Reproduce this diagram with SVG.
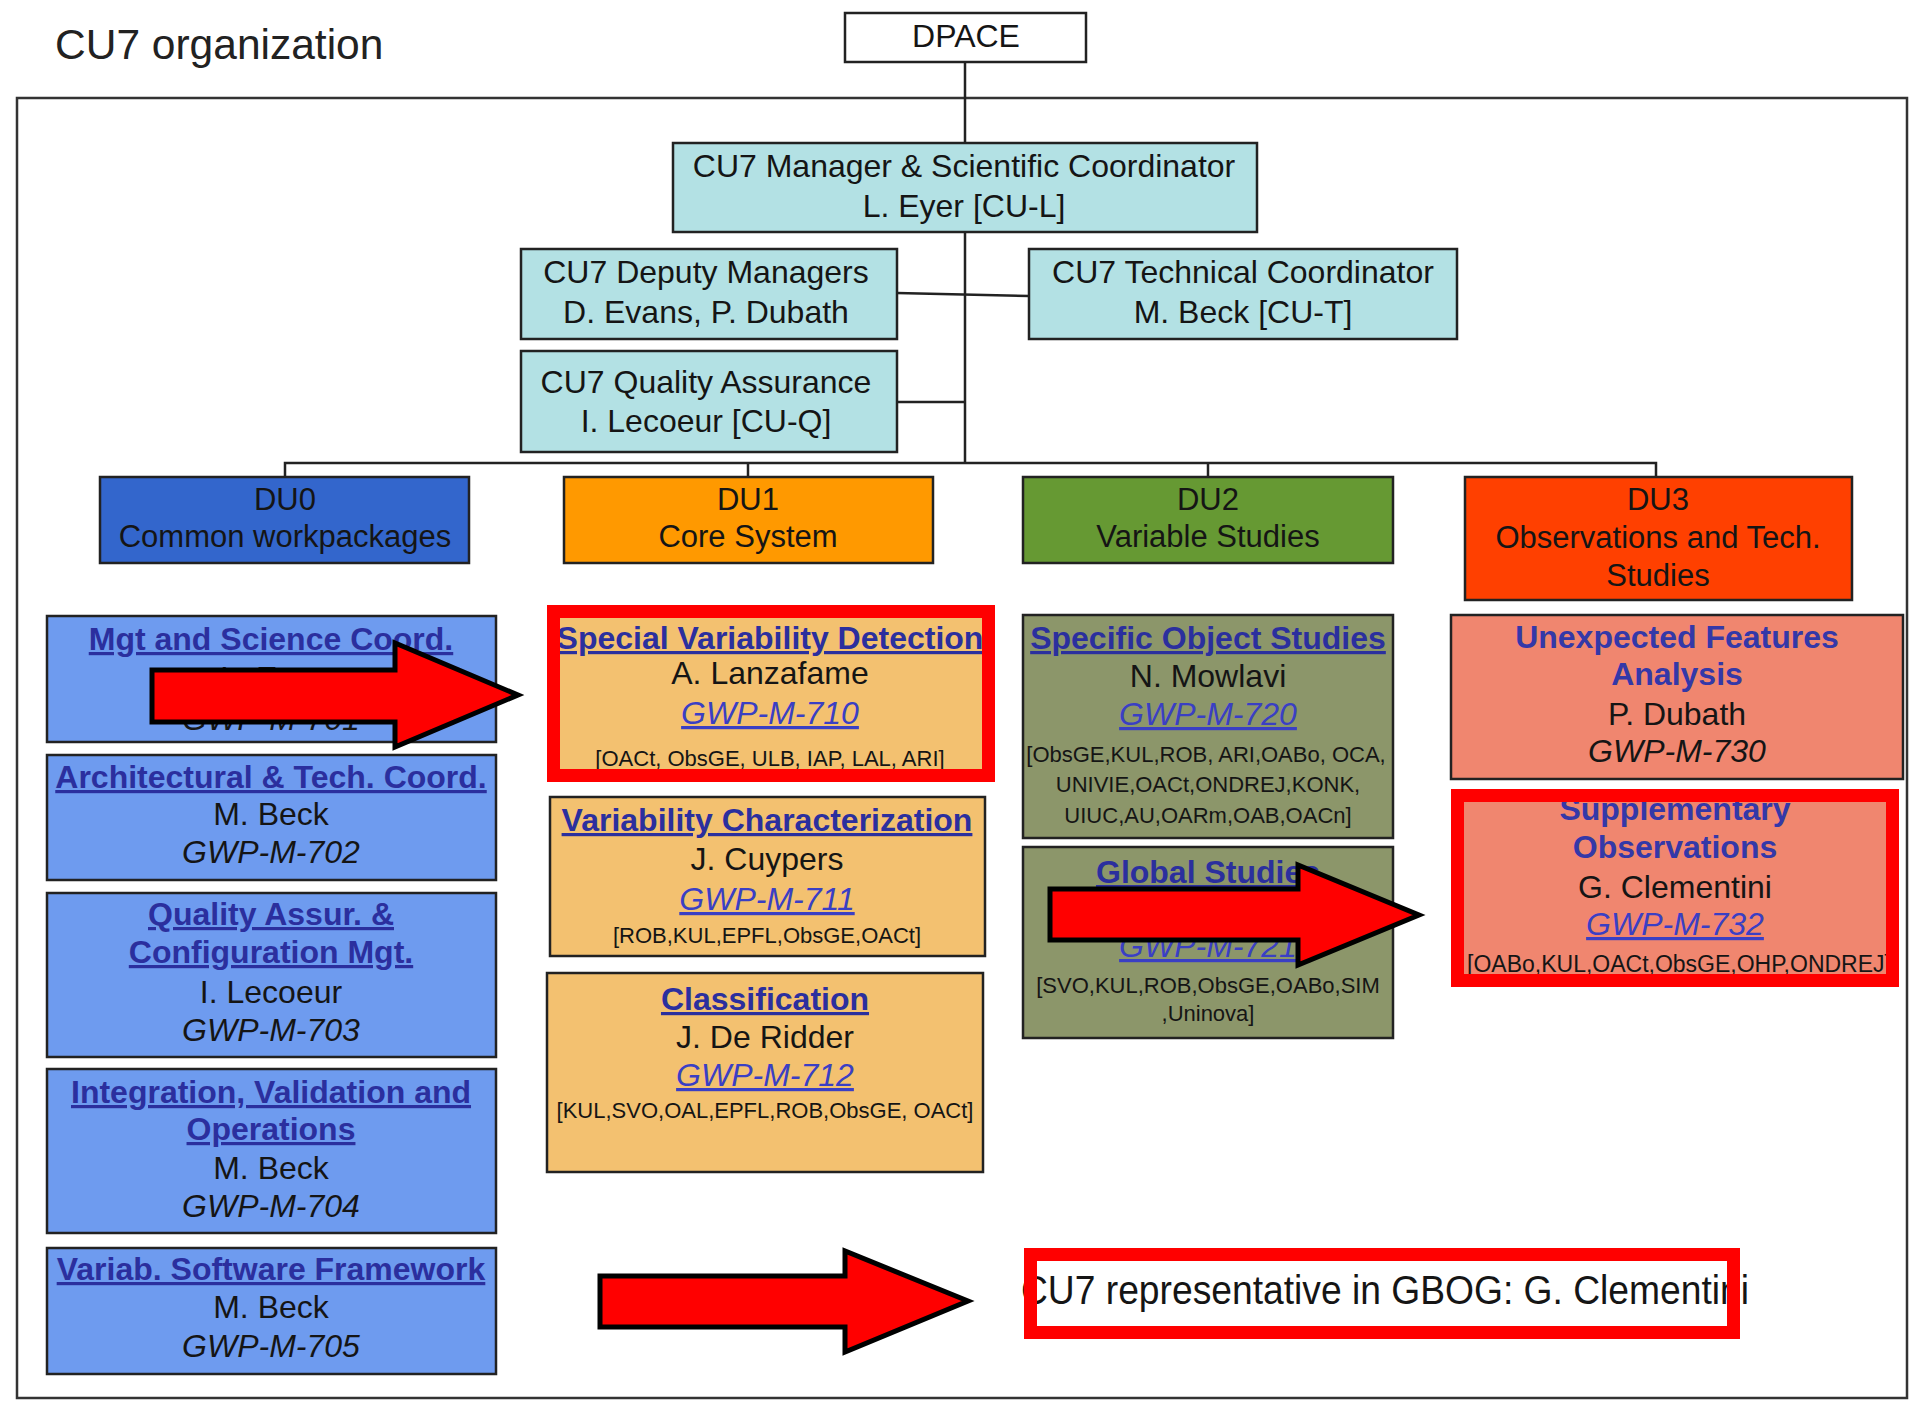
<svg xmlns="http://www.w3.org/2000/svg" width="1913" height="1404" viewBox="0 0 1913 1404">
<defs>
<style>
text{font-family:"Liberation Sans",Arial,sans-serif;text-anchor:middle;fill:#151515}
.box{stroke:#222;stroke-width:2.5}
.top{fill:#b3e1e4}
.d0{fill:#3366cc}.d1{fill:#ff9900}.d2{fill:#669933}.d3{fill:#ff4000}
.c0{fill:#6e9bef}.c1{fill:#f3c170}.c2{fill:#8c966a}.c3{fill:#f0866f}
.f32{font-size:32px}.f31{font-size:31px}.sm{font-size:22px}
.h{font-size:32px;font-weight:bold;fill:#2b2f9e;text-decoration:underline}
.hn{font-size:32px;font-weight:bold;fill:#3438a8}
.code{font-size:32px;font-style:italic}
.link{fill:#3a3fc4;text-decoration:underline}
.red{fill:none;stroke:#ff0000;stroke-width:13}
.arrow{fill:#ff0000;stroke:#000;stroke-width:5;stroke-linejoin:miter}
.conn{stroke:#222;stroke-width:2.5;fill:none}
</style>
</defs>
<rect width="1913" height="1404" fill="#ffffff"/>
<text x="55" y="59" font-size="42.5" style="text-anchor:start;fill:#222">CU7 organization</text>
<rect id="frame" x="17" y="98" width="1890" height="1300" fill="none" stroke="#333" stroke-width="2.5"/>

<g id="connectors" class="conn">
<line x1="965" y1="62" x2="965" y2="463"/>
<line x1="897" y1="293" x2="1029" y2="296"/>
<line x1="897" y1="402" x2="965" y2="402"/>
<polyline points="285,477 285,463 1656,463 1656,477"/>
<line x1="748" y1="463" x2="748" y2="477"/>
<line x1="1208" y1="463" x2="1208" y2="477"/>
</g>

<g id="dpace"><rect class="box" x="845" y="13" width="241" height="49" fill="#fff"/><text class="f32" x="966" y="47">DPACE</text></g>
<g id="manager"><rect class="box top" x="673" y="143" width="584" height="89"/><text class="f32" x="964" y="177">CU7 Manager &amp; Scientific Coordinator</text><text class="f32" x="964" y="217">L. Eyer [CU-L]</text></g>
<g id="deputy"><rect class="box top" x="521" y="249" width="376" height="90"/><text class="f32" x="706" y="283">CU7 Deputy Managers</text><text class="f32" x="706" y="323">D. Evans, P. Dubath</text></g>
<g id="technical"><rect class="box top" x="1029" y="249" width="428" height="90"/><text class="f32" x="1243" y="283">CU7 Technical Coordinator</text><text class="f32" x="1243" y="323">M. Beck [CU-T]</text></g>
<g id="qa"><rect class="box top" x="521" y="351" width="376" height="101"/><text class="f32" x="706" y="393">CU7 Quality Assurance</text><text class="f32" x="706" y="432">I. Lecoeur [CU-Q]</text></g>

<g id="du0"><rect class="box d0" x="100" y="477" width="369" height="86"/><text class="f31" x="285" y="510">DU0</text><text class="f31" x="285" y="547">Common workpackages</text></g>
<g id="du1"><rect class="box d1" x="564" y="477" width="369" height="86"/><text class="f31" x="748" y="510">DU1</text><text class="f31" x="748" y="547">Core System</text></g>
<g id="du2"><rect class="box d2" x="1023" y="477" width="370" height="86"/><text class="f31" x="1208" y="510">DU2</text><text class="f31" x="1208" y="547">Variable Studies</text></g>
<g id="du3"><rect class="box d3" x="1465" y="477" width="387" height="123"/><text class="f31" x="1658" y="510">DU3</text><text class="f31" x="1658" y="548">Observations and Tech.</text><text class="f31" x="1658" y="586">Studies</text></g>

<g id="gwp701"><rect class="box c0" x="47" y="616" width="449" height="126"/><text class="h" x="271" y="650">Mgt and Science Coord.</text><text class="f32" x="271" y="689">L. Eyer</text><text class="code" x="271" y="730">GWP-M-701</text></g>
<g id="gwp702"><rect class="box c0" x="47" y="755" width="449" height="125"/><text class="h" x="271" y="788">Architectural &amp; Tech. Coord.</text><text class="f32" x="271" y="825">M. Beck</text><text class="code" x="271" y="863">GWP-M-702</text></g>
<g id="gwp703"><rect class="box c0" x="47" y="893" width="449" height="164"/><text class="h" x="271" y="925">Quality Assur. &amp;</text><text class="h" x="271" y="963">Configuration Mgt.</text><text class="f32" x="271" y="1003">I. Lecoeur</text><text class="code" x="271" y="1041">GWP-M-703</text></g>
<g id="gwp704"><rect class="box c0" x="47" y="1069" width="449" height="164"/><text class="h" x="271" y="1103">Integration, Validation and</text><text class="h" x="271" y="1140">Operations</text><text class="f32" x="271" y="1179">M. Beck</text><text class="code" x="271" y="1217">GWP-M-704</text></g>
<g id="gwp705"><rect class="box c0" x="47" y="1248" width="449" height="126"/><text class="h" x="271" y="1280">Variab. Software Framework</text><text class="f32" x="271" y="1318">M. Beck</text><text class="code" x="271" y="1357">GWP-M-705</text></g>

<g id="gwp710"><rect class="c1" x="553" y="611" width="435" height="164"/><text class="h" x="770" y="649">Special Variability Detection</text><text class="f32" x="770" y="684">A. Lanzafame</text><text class="code link" x="770" y="724">GWP-M-710</text><text class="sm" x="770" y="766">[OACt, ObsGE, ULB, IAP, LAL, ARI]</text></g>
<g id="gwp711"><rect class="box c1" x="550" y="797" width="435" height="159"/><text class="h" x="767" y="831">Variability Characterization</text><text class="f32" x="767" y="870">J. Cuypers</text><text class="code link" x="767" y="910">GWP-M-711</text><text class="sm" x="767" y="943">[ROB,KUL,EPFL,ObsGE,OACt]</text></g>
<g id="gwp712"><rect class="box c1" x="547" y="973" width="436" height="199"/><text class="h" x="765" y="1010">Classification</text><text class="f32" x="765" y="1048">J. De Ridder</text><text class="code link" x="765" y="1086">GWP-M-712</text><text class="sm" x="765" y="1118">[KUL,SVO,OAL,EPFL,ROB,ObsGE, OACt]</text></g>

<g id="gwp720"><rect class="box c2" x="1023" y="615" width="370" height="223"/><text class="h" x="1208" y="649">Specific Object Studies</text><text class="f32" x="1208" y="687">N. Mowlavi</text><text class="code link" x="1208" y="725">GWP-M-720</text><text class="sm" x="1206" y="762">[ObsGE,KUL,ROB, ARI,OABo, OCA,</text><text class="sm" x="1208" y="792">UNIVIE,OACt,ONDREJ,KONK,</text><text class="sm" x="1208" y="823">UIUC,AU,OARm,OAB,OACn]</text></g>
<g id="gwp721"><rect class="box c2" x="1023" y="847" width="370" height="191"/><text class="h" x="1208" y="883">Global Studies</text><text class="code link" x="1208" y="957">GWP-M-721</text><text class="sm" x="1208" y="993">[SVO,KUL,ROB,ObsGE,OABo,SIM</text><text class="sm" x="1208" y="1021">,Uninova]</text></g>

<g id="gwp730"><rect class="box c3" x="1451" y="615" width="452" height="164"/><text class="hn" x="1677" y="648">Unexpected Features</text><text class="hn" x="1677" y="685">Analysis</text><text class="f32" x="1677" y="725">P. Dubath</text><text class="code" x="1677" y="762">GWP-M-730</text></g>
<g id="gwp732"><rect class="c3" x="1457" y="795" width="435" height="186"/><text class="hn" x="1675" y="820">Supplementary</text><text class="hn" x="1675" y="858">Observations</text><text class="f32" x="1675" y="898">G. Clementini</text><text class="code link" x="1675" y="935">GWP-M-732</text><text x="1679" y="972" font-size="23">[OABo,KUL,OACt,ObsGE,OHP,ONDREJ]</text></g>

<g id="gbog"><rect x="1030" y="1254" width="704" height="79" fill="#fff"/><text x="1021" y="1304" font-size="40" textLength="728" lengthAdjust="spacingAndGlyphs" style="text-anchor:start">CU7 representative in GBOG: G. Clementini</text></g>

<g id="highlights">
<rect class="red" x="553.5" y="611.5" width="435" height="164"/>
<rect class="red" x="1457.5" y="795.5" width="435" height="185"/>
<rect class="red" x="1030.5" y="1254.5" width="703" height="78"/>
<polygon class="arrow" points="152,670 395,670 395,643 518,695 395,747 395,722 152,722"/>
<polygon class="arrow" points="1050,889 1298,889 1298,865 1419,915 1298,965 1298,940 1050,940"/>
<polygon class="arrow" points="600,1276 845,1276 845,1251 968,1301 845,1352 845,1327 600,1327"/>
</g>
</svg>
